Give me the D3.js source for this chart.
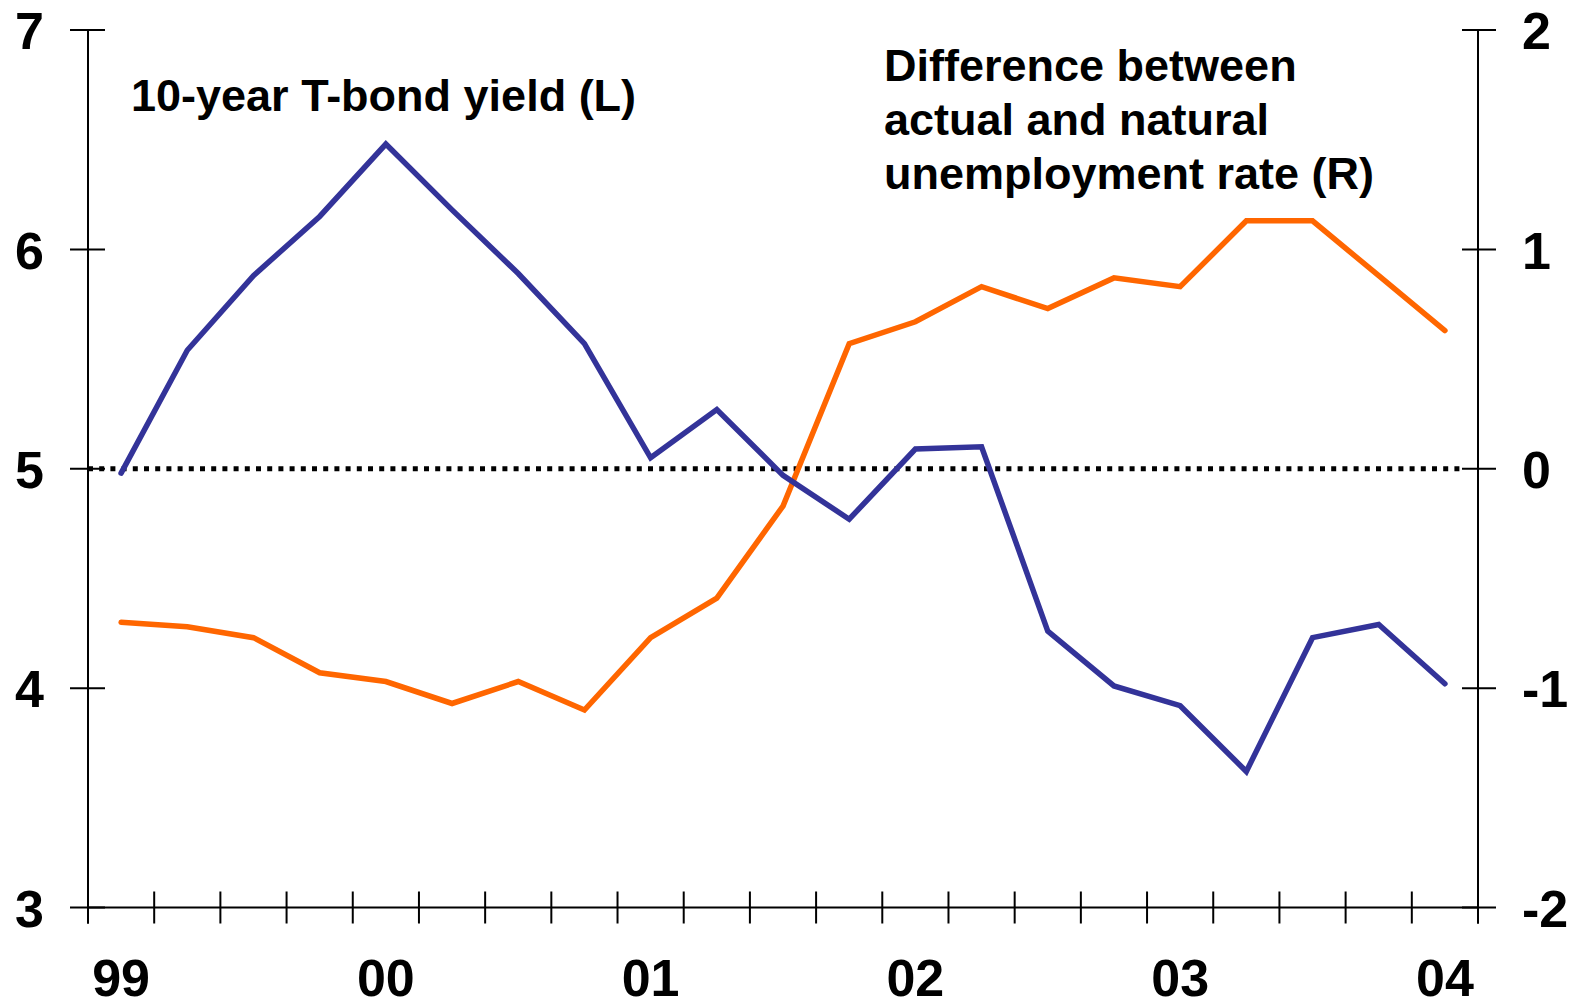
<!DOCTYPE html>
<html>
<head>
<meta charset="utf-8">
<script src="https://cdn.jsdelivr.net/npm/d3@7/dist/d3.min.js"></script>
<style>
  html, body { margin: 0; padding: 0; background: #fff; }
  svg { display: block; }
  text { font-family: "Liberation Sans", Arial, sans-serif; font-weight: bold; fill: #000; }
</style>
</head>
<body>
<svg id="chart" width="1585" height="1008"></svg>
<script>
// Quarterly periods, 1999Q1 .. 2004Q1
const quarters = [
  "1999Q1","1999Q2","1999Q3","1999Q4",
  "2000Q1","2000Q2","2000Q3","2000Q4",
  "2001Q1","2001Q2","2001Q3","2001Q4",
  "2002Q1","2002Q2","2002Q3","2002Q4",
  "2003Q1","2003Q2","2003Q3","2003Q4",
  "2004Q1"
];
// 10-year T-bond yield (left axis, %)
const bondYield = [4.98, 5.54, 5.88, 6.15, 6.48, 6.18, 5.89, 5.57, 5.05, 5.27, 4.97,
                   4.77, 5.09, 5.10, 4.26, 4.01, 3.92, 3.62, 4.23, 4.29, 4.02];
// Difference between actual and natural unemployment rate (right axis, pp)
const unempGap = [-0.70, -0.72, -0.77, -0.93, -0.97, -1.07, -0.97, -1.10, -0.77, -0.59, -0.17,
                  0.57, 0.67, 0.83, 0.73, 0.87, 0.83, 1.13, 1.13, 0.88, 0.63];
// Year labels shown on the x axis, keyed to the quarter they sit under
const yearLabels = [
  {q: "1999Q1", label: "99"}, {q: "2000Q1", label: "00"}, {q: "2001Q1", label: "01"},
  {q: "2002Q1", label: "02"}, {q: "2003Q1", label: "03"}, {q: "2004Q1", label: "04"}
];
const leftTicks = [3, 4, 5, 6, 7];
const rightTicks = [-2, -1, 0, 1, 2];

const svg = d3.select("#chart");
const L = 88, R = 1478, T = 30, B = 907.5;

const x = d3.scaleBand().domain(quarters).range([L, R]).padding(0);
const yL = d3.scaleLinear().domain([3, 7]).range([B, T]);
const yR = d3.scaleLinear().domain([-2, 2]).range([B, T]);
const cx = q => x(q) + x.bandwidth() / 2;

// zero reference line (dotted)
svg.append("line")
  .attr("x1", L).attr("x2", R - 16)
  .attr("y1", yR(0)).attr("y2", yR(0))
  .attr("stroke", "#000").attr("stroke-width", 5)
  .attr("stroke-dasharray", "5,6.2");

// axis lines
const axisG = svg.append("g").attr("stroke", "#000").attr("stroke-width", 2);
axisG.append("line").attr("x1", L).attr("x2", L).attr("y1", T).attr("y2", B + 16);
axisG.append("line").attr("x1", R).attr("x2", R).attr("y1", T).attr("y2", B + 16);
axisG.append("line").attr("x1", L).attr("x2", R).attr("y1", B).attr("y2", B);

// left ticks (crossing axis)
axisG.selectAll(".lt").data(leftTicks).enter().append("line")
  .attr("x1", L - 18).attr("x2", L + 17)
  .attr("y1", d => yL(d)).attr("y2", d => yL(d));
// right ticks (crossing axis)
axisG.selectAll(".rt").data(rightTicks).enter().append("line")
  .attr("x1", R - 16).attr("x2", R + 18)
  .attr("y1", d => yR(d)).attr("y2", d => yR(d));
// x ticks at quarter boundaries
const bounds = quarters.map(q => x(q)).concat([x.range()[1]]);
axisG.selectAll(".xt").data(bounds).enter().append("line")
  .attr("x1", d => d).attr("x2", d => d)
  .attr("y1", B - 16).attr("y2", B + 16);

// tick labels via d3 axes (plain hyphen minus, as in the original)
const fmt = d => String(d);
const leftAxis = d3.axisLeft(yL).tickValues(leftTicks).tickSize(0).tickPadding(44).tickFormat(fmt);
const rightAxis = d3.axisRight(yR).tickValues(rightTicks).tickSize(0).tickPadding(44).tickFormat(fmt);
const gl = svg.append("g").attr("transform", `translate(${L},0)`).call(leftAxis);
const gr = svg.append("g").attr("transform", `translate(${R},0)`).call(rightAxis);
[gl, gr].forEach(g => {
  g.select(".domain").remove();
  g.selectAll("text").attr("font-size", 52).attr("font-family", '"Liberation Sans", Arial, sans-serif')
    .attr("font-weight", "bold").attr("fill", "#000").attr("dy", "0.36em");
});

// x labels
svg.selectAll(".xl").data(yearLabels).enter().append("text")
  .attr("x", d => cx(d.q)).attr("y", 996)
  .attr("text-anchor", "middle").attr("font-size", 52)
  .text(d => d.label);

// series lines
const lineL = d3.line().x((d, i) => cx(quarters[i])).y(d => yL(d));
const lineR = d3.line().x((d, i) => cx(quarters[i])).y(d => yR(d));
svg.append("path").datum(unempGap).attr("d", lineR)
  .attr("fill", "none").attr("stroke", "#FF6600").attr("stroke-width", 5.5)
  .attr("stroke-linejoin", "miter").attr("stroke-linecap", "round");
svg.append("path").datum(bondYield).attr("d", lineL)
  .attr("fill", "none").attr("stroke", "#333399").attr("stroke-width", 5.5)
  .attr("stroke-linejoin", "miter").attr("stroke-linecap", "round");

// annotations
svg.append("text").attr("x", 131).attr("y", 111).attr("font-size", 45)
  .text("10-year T-bond yield (L)");
const ann = ["Difference between", "actual and natural", "unemployment rate (R)"];
svg.selectAll(".ann").data(ann).enter().append("text")
  .attr("x", 884).attr("y", (d, i) => 81 + i * 54)
  .attr("font-size", 45)
  .text(d => d);
</script>
</body>
</html>
